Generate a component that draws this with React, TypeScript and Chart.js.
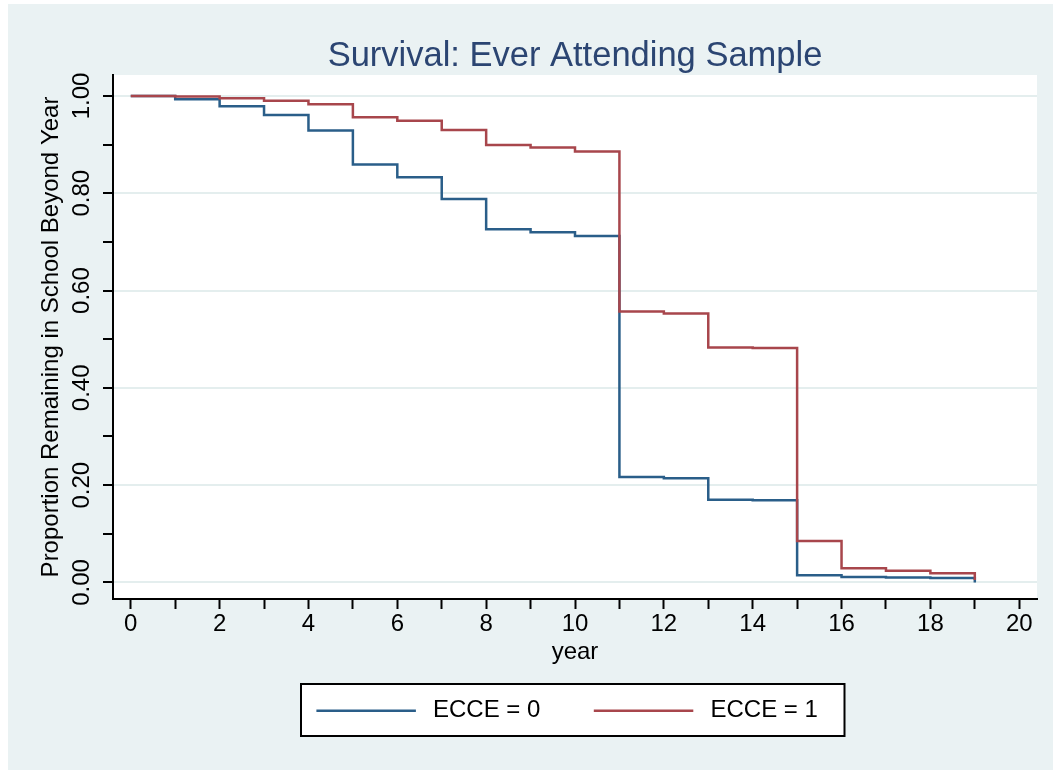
import React, { useEffect, useRef } from 'react';
import { Chart, registerables } from 'chart.js';

Chart.register(...registerables);

// ---- data ----
const years = [0, 1, 2, 3, 4, 5, 6, 7, 8, 9, 10, 11, 12, 13, 14, 15, 16, 17, 18, 19];
const ecce0 = [1.0, 0.993, 0.979, 0.961, 0.929, 0.859, 0.833, 0.788, 0.726, 0.72, 0.712, 0.217, 0.214, 0.17, 0.169, 0.015, 0.011, 0.01, 0.009, 0.0];
const ecce1 = [1.0, 0.999, 0.995, 0.99, 0.983, 0.956, 0.949, 0.93, 0.899, 0.894, 0.886, 0.557, 0.553, 0.483, 0.482, 0.085, 0.029, 0.024, 0.019, 0.005];
const seriesLabels = ['ECCE = 0', 'ECCE = 1'];
const seriesColors = ['#2a5e89', '#a8464c'];
const xTickValues = [0, 1, 2, 3, 4, 5, 6, 7, 8, 9, 10, 11, 12, 13, 14, 15, 16, 17, 18, 19, 20];
const yTickValues = [0, 0.1, 0.2, 0.3, 0.4, 0.5, 0.6, 0.7, 0.8, 0.9, 1.0];
const chartTitle = 'Survival: Ever Attending Sample';
const xTitle = 'year';
const yTitle = 'Proportion Remaining in School Beyond Year';

const FONT = '"Liberation Sans", Arial, Helvetica, sans-serif';
const BG = '#eaf2f3';
const GRID = '#e4eeee';

const plotBackground = {
  id: 'plotBackground',
  beforeDraw(chart: any) {
    const { ctx, chartArea } = chart;
    ctx.save();
    ctx.fillStyle = '#ffffff';
    ctx.fillRect(chartArea.left, chartArea.top, chartArea.right - chartArea.left, chartArea.bottom - chartArea.top);
    ctx.restore();
  },
};

const boxedLegend = {
  id: 'boxedLegend',
  afterDraw(chart: any) {
    const { ctx } = chart;
    ctx.save();
    const bx = 293, by = 680, bw = 543.5, bh = 52;
    ctx.fillStyle = '#ffffff';
    ctx.fillRect(bx, by, bw, bh);
    ctx.strokeStyle = '#000000';
    ctx.lineWidth = 2;
    ctx.strokeRect(bx, by, bw, bh);
    const slots = [
      { lx: 308.4, tx: 425 },
      { lx: 585.8, tx: 702.5 },
    ];
    chart.data.datasets.forEach((ds: any, i: number) => {
      const s = slots[i];
      ctx.strokeStyle = ds.borderColor;
      ctx.lineWidth = 2.5;
      ctx.beginPath();
      ctx.moveTo(s.lx, 706.7);
      ctx.lineTo(s.lx + 99.5, 706.7);
      ctx.stroke();
      ctx.fillStyle = '#000000';
      ctx.font = `24px ${FONT}`;
      ctx.textAlign = 'left';
      ctx.textBaseline = 'alphabetic';
      ctx.fillText(ds.label, s.tx, 713);
    });
    ctx.restore();
  },
};

export default function App() {
  const ref = useRef<HTMLCanvasElement>(null);

  useEffect(() => {
    if (!ref.current) return;
    const chart = new Chart(ref.current, {
      type: 'line',
      data: {
        datasets: [
          {
            label: seriesLabels[0],
            data: years.map((t, i) => ({ x: t, y: ecce0[i] })),
            borderColor: seriesColors[0],
            backgroundColor: seriesColors[0],
            borderWidth: 2.5,
            pointRadius: 0,
            stepped: 'before',
            fill: false,
            order: 2,
          },
          {
            label: seriesLabels[1],
            data: years.map((t, i) => ({ x: t, y: ecce1[i] })),
            borderColor: seriesColors[1],
            backgroundColor: seriesColors[1],
            borderWidth: 2.5,
            pointRadius: 0,
            stepped: 'before',
            fill: false,
            order: 1,
          },
        ],
      },
      options: {
        responsive: false,
        maintainAspectRatio: false,
        devicePixelRatio: 1,
        animation: false,
        layout: { padding: { left: 0, right: 16, top: 0, bottom: 101 } },
        plugins: {
          legend: { display: false },
          tooltip: { enabled: false },
          title: {
            display: true,
            text: chartTitle,
            fullSize: false,
            color: '#2b4572',
            font: { family: FONT, size: 34.5, weight: 'normal', lineHeight: 1 },
            padding: { top: 35, bottom: 1.5 },
          },
        },
        scales: {
          x: {
            type: 'linear',
            min: -0.4,
            max: 20.4,
            afterBuildTicks: (scale: any) => {
              scale.ticks = xTickValues.map((v) => ({ value: v }));
            },
            afterFit: (scale: any) => {
              scale.height = 70;
            },
            ticks: {
              autoSkip: false,
              maxRotation: 0,
              minRotation: 0,
              padding: 1,
              color: '#000000',
              font: { family: FONT, size: 24 },
              callback: (v: any) => (Math.round(Number(v)) % 2 === 0 ? String(Math.round(Number(v))) : ''),
            },
            grid: {
              drawOnChartArea: false,
              drawTicks: true,
              tickLength: 10,
              tickColor: '#000000',
              tickWidth: 2,
            },
            border: { display: true, color: '#000000', width: 2 },
            title: {
              display: true,
              text: xTitle,
              color: '#000000',
              font: { family: FONT, size: 24 },
              padding: { top: 0, bottom: 2 },
            },
          },
          y: {
            type: 'linear',
            min: -0.034,
            max: 1.043,
            afterBuildTicks: (scale: any) => {
              scale.ticks = yTickValues.map((v) => ({ value: v }));
            },
            afterFit: (scale: any) => {
              scale.width = 105;
            },
            ticks: {
              autoSkip: false,
              minRotation: 90,
              maxRotation: 90,
              crossAlign: 'center',
              padding: -3,
              color: '#000000',
              font: { family: FONT, size: 24 },
              callback: (v: any) => (Math.round(Number(v) * 10) % 2 === 0 ? Number(v).toFixed(2) : ''),
            },
            grid: {
              drawOnChartArea: true,
              drawTicks: true,
              tickLength: 10,
              lineWidth: 2,
              tickWidth: 2,
              tickColor: '#000000',
              color: (ctx: any) =>
                ctx.tick && Math.round(ctx.tick.value * 10) % 2 === 0 ? GRID : 'rgba(0,0,0,0)',
            },
            border: { display: true, color: '#000000', width: 2 },
            title: {
              display: true,
              text: yTitle,
              color: '#000000',
              font: { family: FONT, size: 24 },
              padding: { top: 29, bottom: 0 },
            },
          },
        },
      },
      plugins: [plotBackground, boxedLegend],
    } as any);
    return () => chart.destroy();
  }, []);

  return (
    <div
      style={{
        position: 'absolute',
        left: 8,
        top: 4,
        width: 1045,
        height: 766,
        background: BG,
        overflow: 'hidden',
      }}
    >
      <canvas ref={ref} width={1045} height={766} style={{ display: 'block', width: '1045px', height: '766px' }} />
    </div>
  );
}
